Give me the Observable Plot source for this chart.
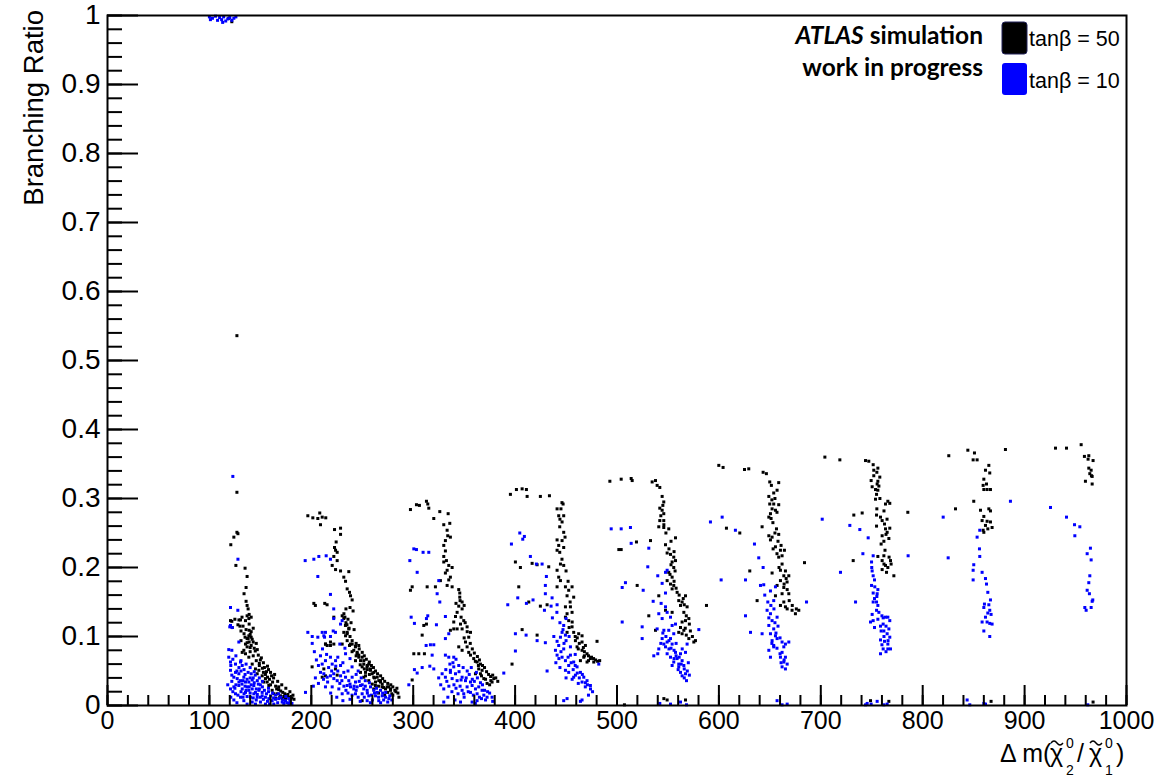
<!DOCTYPE html>
<html><head><meta charset="utf-8">
<script src="https://cdn.jsdelivr.net/npm/d3@7"></script>
<script src="https://cdn.jsdelivr.net/npm/@observablehq/plot@0.6"></script>
<style>body{margin:0;background:#fff} svg{display:block}</style>
</head><body><div id="chart"></div>
<script>
// tanβ = 50 (black) points: [Δm, branching ratio]
const tan50 = [
[119,0.996],[122,0.991],
[127,0.536],[127,0.309],[127,0.251],[128,0.249],[124,0.244],[121,0.233],[126,0.203],[135,0.199],[137,0.187],[136,0.171],[134,0.162],[136,0.151],[137,0.145],[138,0.14],[139,0.132],[132,0.128],[129,0.124],[141,0.128],[122,0.122],[140,0.103],[138,0.097],[131,0.094],[139,0.092],[141,0.087],
[137,0.130],[138.7,0.126],[135.4,0.123],[130.5,0.124],[120.7,0.123],[122.4,0.113],[138.7,0.101],[137,0.097],[135.4,0.089],[137,0.085],[133.8,0.08],[132.2,0.077],[135.4,0.075],[138.7,0.07],
[142,0.06],[145.2,0.053],[148.5,0.051],[146.9,0.046],[151.8,0.043],[155,0.039],[153.4,0.034],[156.7,0.034],[158.3,0.029],[161.6,0.022],[163.2,0.017],[166.5,0.017],[169.8,0.014],[173,0.013],[176.3,0.014],[164.9,0.01],[171.4,0.01],[174.7,0.01],[179.6,0.01],
[139,0.118],[143,0.112],[141,0.107],[135,0.099],[142,0.096],[146,0.09],[144,0.083],[140,0.078],[148,0.073],[150,0.066],[153,0.062],[157,0.057],[152,0.054],[160,0.048],[163,0.04],[167,0.035],[171,0.03],[175,0.025],[179,0.02],[182,0.015],[168,0.023],[160,0.03],[155,0.045],[149,0.058],
[128,0.117],[131,0.108],[133,0.115],[136,0.11],[134,0.104],[139,0.109],[141,0.099],[143,0.092],[137,0.091],[140,0.084],[145,0.079],[147,0.081],[143,0.072],[146,0.065],[151,0.069],[149,0.061],[154,0.055],[156,0.049],[158,0.052],[161,0.043],[159,0.038],[162,0.034],[165,0.028],[168,0.027],[170,0.021],[172,0.019],[174,0.017],[177,0.016],[178,0.012],[181,0.011],[183,0.009],[169,0.012],[166,0.024],[164,0.045],[157,0.041],[153,0.048],[130,0.115],[125,0.125],
[196.6,0.275],[201.5,0.272],[208.3,0.279],[210.7,0.273],[214.2,0.272],[206.4,0.271],[209,0.262],
[222.8,0.255],[228.7,0.257],[228.7,0.248],[224.4,0.237],[222.8,0.229],[223.8,0.225],[225.4,0.222],[222.1,0.216],[225.4,0.21],[220.5,0.203],[223.8,0.197],[228.7,0.195],[236.8,0.194],
[231.9,0.186],[233.6,0.18],[235.2,0.169],[237.5,0.164],[238.5,0.159],[240.1,0.153],
[202.5,0.148],[204,0.145],[213.2,0.148],[215.5,0.146],
[232,0.133],[233,0.128],[234,0.12],[235,0.117],[237,0.112],
[231.9,0.106],[233.6,0.101],[235.2,0.094],[237.5,0.087],[240.1,0.089],[243.4,0.086],
[214,0.089],[215.6,0.087],[218.8,0.092],
[241.7,0.08],[245,0.075],[246.6,0.07],[248.3,0.065],[243.4,0.065],[251.5,0.06],[254.9,0.058],[258.1,0.053],[249.9,0.056],[261.3,0.048],[264.7,0.041],[267.9,0.036],[263,0.034],[269.6,0.031],[274.5,0.027],[277.8,0.024],[248.3,0.048],[253.2,0.043],[256.4,0.036],[259.8,0.031],[284,0.025],
[210.7,0.041],[213.9,0.043],
[230.3,0.13],[231.9,0.126],[233.5,0.116],[236.8,0.111],[235.2,0.104],[240.1,0.094],[238.4,0.089],[243.3,0.085],[246.6,0.087],[245,0.077],[246.6,0.073],[249.9,0.07],[251.5,0.065],[256.4,0.06],[254.8,0.056],[258.1,0.051],[253.2,0.048],[259.7,0.046],[261.3,0.041],[266.2,0.036],[267.9,0.034],[262.9,0.029],[269.5,0.027],[272.8,0.024],[276,0.027],[261.3,0.024],[277.7,0.022],[249.9,0.007],[251.5,0.041],[222.1,0.089],[218.8,0.087],[213.9,0.089],[230.3,0.089],[223.7,0.053],[225.4,0.044],[212.3,0.053],[200.8,0.056],[222.1,0.128],[235.2,0.106],
[280,0.015],[283,0.02],[272,0.015],[266,0.018],
[244,0.09],[247,0.082],[250,0.077],[252,0.072],[254,0.067],[257,0.063],[259,0.058],[261,0.055],[263,0.05],[265,0.046],[268,0.043],[270,0.039],[272,0.035],[275,0.032],[278,0.03],[280,0.027],[282,0.022],[285,0.018],[286,0.012],[279,0.017],[275,0.019],[271,0.026],[266,0.028],[262,0.04],[257,0.045],[255,0.052],[252,0.053],[248,0.059],[244,0.072],[240,0.078],[238,0.1],[242,0.11],[239,0.12],[236,0.125],[241,0.137],[238,0.142],[234,0.14],
[297.3,0.284],[303.2,0.291],[306.1,0.29],[313,0.296],[314.3,0.292],[315.3,0.286],[320.2,0.271],[326.1,0.281],[334.3,0.278],[330,0.262],[333.3,0.254],[335.9,0.264],[333.9,0.246],[336.5,0.244],[331.6,0.239],[330,0.232],[331.6,0.224],[330,0.216],[332.6,0.21],[330,0.208],[334.9,0.203],[333.3,0.196],[338.2,0.2],[331.6,0.192],[336.5,0.186],[334.9,0.182],[333.3,0.174],[338.2,0.172],[344.7,0.168],[345.7,0.163],[345.7,0.157],[348,0.15],[344.7,0.144],[343.1,0.135],[348,0.14],[341.5,0.129],[339.8,0.121],[346.4,0.118],[349.6,0.123],[343.1,0.111],[348,0.111],[352.9,0.114],[356.2,0.106],[354.5,0.099],[351.3,0.092],[352.9,0.085],[354.5,0.077],[356.2,0.073],[359.4,0.068],[362.7,0.063],[366,0.06],[364.3,0.053],[367.6,0.051],[361.1,0.046],[366,0.046],[369.3,0.039],[376.2,0.036],[377.4,0.034],[379.1,0.039],[372.5,0.032],
[299,0.172],[297.3,0.167],[313.7,0.172],[321.8,0.172],[326.7,0.181],[313,0.118],[310.4,0.116],[308.8,0.102],[300.6,0.075],[305.5,0.075],[311,0.075],[299,0.037],[339.8,0.111],[336.5,0.109],[344.7,0.085],[348,0.08],
[356,0.09],[358,0.082],[360,0.076],[363,0.071],[365,0.066],[368,0.058],[370,0.055],[372,0.049],[374,0.045],[376,0.042],[378,0.044],[381,0.04],[383,0.035],[375,0.03],[371,0.038],[367,0.043],[364,0.058],[361,0.064],[350,0.098],[353,0.107],[351,0.12],[347,0.128],[350,0.145],[346,0.152],[342,0.148],
[395.4,0.306],[401.3,0.313],[406.9,0.314],[411.1,0.313],[411.8,0.303],[424.8,0.303],[433.7,0.304],[447.1,0.292],[441.2,0.285],[442.8,0.275],[447.7,0.275],[446.1,0.266],[443.8,0.259],[447.7,0.251],[441.2,0.24],[446.1,0.239],[442.8,0.232],[447.7,0.229],[441.2,0.225],[443.8,0.222],[444.5,0.205],[447.7,0.203],[441.2,0.196],[442.8,0.186],[444.5,0.181],[449.4,0.172],[441.2,0.172],[452.6,0.167],[455.9,0.172],[451,0.159],[457.5,0.157],[449.4,0.143],[454.3,0.143],[455.9,0.135],[451,0.133],[449.4,0.128],[452.6,0.123],[455.9,0.114],[451,0.106],[457.5,0.106],[462.4,0.104],[465.7,0.101],[459.2,0.094],[465.7,0.092],[469,0.087],[460.8,0.085],[465.7,0.08],[470.6,0.075],[467.4,0.07],[473.9,0.068],[477.2,0.063],[470.6,0.063],[464.1,0.065],[480.4,0.093],
[400.3,0.208],[405.2,0.2],[416.7,0.206],[421.6,0.204],[433,0.201],[403.6,0.172],[413.4,0.15],[424.8,0.144],[431.4,0.146],[421.6,0.102],[406.9,0.11],[397,0.06],
[459,0.1],[461,0.098],[463,0.09],[467,0.084],[468,0.078],[472,0.072],[475,0.07],[477,0.068],[479,0.066],[481,0.064],[483,0.065],[472,0.065],[468,0.072],[462,0.082],[453,0.113],[456,0.121],[454,0.15],[452,0.18],[450,0.195],[446,0.212],[449,0.244],[444,0.27],[445,0.285],[446,0.294],
[493,0.325],[504.1,0.328],[513.9,0.329],[514.9,0.326],[534.5,0.324],[537.8,0.326],[539.4,0.319],[542,0.316],[544.3,0.303],[545.9,0.295],[542,0.286],[544.3,0.283],[545.9,0.278],[542,0.268],[545.9,0.268],[541,0.259],[545.9,0.258],[550.8,0.256],[557.4,0.243],[532.9,0.239],[519.1,0.237],[501.8,0.226],[504.1,0.226],[547.6,0.233],[549.2,0.221],[552.5,0.219],[555.7,0.215],[557.4,0.21],[554.1,0.208],[555.7,0.2],[550.8,0.193],[554.1,0.186],[549.2,0.181],[552.5,0.176],[555.7,0.174],[554.1,0.169],[559,0.164],[567.2,0.159],[560.6,0.152],[563.9,0.15],[562.3,0.145],[568.8,0.143],[565.6,0.135],[570.5,0.126],[567.2,0.123],[563.9,0.121],[562.3,0.113],[565.6,0.109],[560.6,0.106],[563.9,0.104],[570.5,0.097],[577,0.094],[575.4,0.092],[537.8,0.109],[531.2,0.13],[541,0.159],[519.8,0.174],[547.6,0.138],[554.1,0.135],[587.8,0.145],
[545,0.29],[543,0.275],[546,0.262],[548,0.25],[553,0.238],[551,0.227],[556,0.223],[553,0.204],[557,0.195],[552,0.19],[556,0.18],[558,0.17],[561,0.16],[565,0.155],[566,0.146],[568,0.13],[571,0.118],[567,0.112],[572,0.108],[574,0.1],[568,0.102],
[546,0.01],[549.2,0.008],[567.2,0.008],[507.3,0.001],
[599.9,0.348],[604.1,0.345],[625.1,0.342],[629.3,0.343],[643.4,0.338],[646.6,0.336],[649.9,0.324],[658.7,0.323],[651.5,0.319],[657.1,0.312],[653.8,0.308],[649,0.303],[649.9,0.292],[653.8,0.292],[658.7,0.291],[652.2,0.285],[655.5,0.283],[650.6,0.278],[649,0.273],[651.2,0.271],[642.4,0.259],[656.5,0.256],[649,0.246],[652.2,0.244],[658.7,0.248],[650.6,0.24],[655.5,0.23],[653.2,0.227],[660.4,0.225],[664.3,0.225],[658.7,0.215],[662,0.217],[652.2,0.192],[660.4,0.196],[665.3,0.195],[663.7,0.188],[668.6,0.188],[660.4,0.181],[666.9,0.179],[657.1,0.174],[663.7,0.171],[655.5,0.159],[662,0.162],[668.6,0.162],[663.7,0.15],[660.4,0.145],[665.3,0.143],[671.8,0.138],[675.1,0.133],[637.5,0.152],[630.3,0.195],[607.4,0.257],[620.5,0.25],[678.4,0.138],
[655,0.3],[652,0.298],[657,0.28],[653,0.265],[655,0.25],[658,0.238],[661,0.232],[657,0.22],[662,0.205],[659,0.2],[666,0.184],[664,0.176],[667,0.168],[669,0.152],[672,0.145],[667,0.14],[676,0.14],
[704,0.36],[718.7,0.356],[743.9,0.355],[747.1,0.354],[751.4,0.349],[756,0.344],[752,0.341],[749.4,0.326],[756,0.325],[757.9,0.331],[755.3,0.321],[750.4,0.317],[753.7,0.313],[756,0.312],[754.7,0.306],[753.7,0.299],[763.5,0.292],[765.8,0.296],[767.7,0.293],[732.4,0.276],[740.6,0.279],[754.7,0.276],[758.6,0.273],[760.2,0.268],[754.7,0.26],[762.5,0.263],[767.7,0.257],[763.5,0.256],[760.2,0.246],[765.1,0.251],[766.8,0.242],[761.9,0.238],[759.2,0.234],[756,0.216],[761.9,0.217],[768.4,0.21],[760.2,0.21],[763.5,0.203],[765.8,0.2],[760.2,0.197],[764.5,0.193],[771.7,0.188],[731.8,0.21],[684,0.207],[785.4,0.28],
[755,0.338],[752,0.333],[757,0.318],[758,0.3],[755,0.285],[762,0.282],[765,0.27],[764,0.248],[763,0.225],[767,0.215],[769,0.205],[762,0.205],
[748.8,0.007],[766.8,0.006],
[825.6,0.362],[844.3,0.37],[850.8,0.366],[849.5,0.356],[853.4,0.356],[864.9,0.348],[861.6,0.341],[865.8,0.337],[860,0.328],[862.6,0.321],[859.3,0.319],[863.2,0.313],[860,0.313],[866.5,0.313],[850.1,0.296],[832.2,0.285],[856.7,0.283],[864.9,0.285],[866.5,0.282],[860,0.274],[863.2,0.267],[858.3,0.268],[866.5,0.266],[861.6,0.261],[868.1,0.258],[859.3,0.254],[863.9,0.256],[860,0.251],[881.2,0.371],
[867.1,0.006],
[930.3,0.373],[941.1,0.373],[955.5,0.378],[958.7,0.361],[963,0.362],[962.3,0.357],[967.2,0.355],[963,0.344],[965.3,0.341],[964,0.336],[966.3,0.332],[959.7,0.325],[966.3,0.321],[965.6,0.333],
[967.2,0.005]
];

// tanβ = 10 (blue) points: [Δm, branching ratio]
const tan10 = [
[100,0.998],[103,0.996],[106,0.999],[108,0.993],[110,0.997],[112,0.994],[114,0.998],[116,0.992],[118,0.995],[120,0.997],[122,0.993],[124,0.996],[126,0.998],[101,0.994],[113,0.99],
[123,0.332],[128,0.212],[120.7,0.142],[127.9,0.138],[120,0.114],[122.4,0.113],[119,0.081],[122,0.08],[120.7,0.116],[128.9,0.092],
[120.7,0.063],[125.6,0.06],[130.5,0.063],[132.2,0.058],[120.7,0.051],[125.6,0.048],[128.9,0.046],[124,0.041],[127.3,0.039],[130.5,0.036],[133.8,0.041],[135.4,0.034],[124,0.027],[128.9,0.029],[132.2,0.024],[137,0.027],[138.7,0.022],[142,0.024],[135.4,0.019],[143.6,0.017],[145.2,0.019],[148.5,0.022],[140.3,0.012],[146.9,0.012],[151.8,0.014],[155,0.012],[158.3,0.01],[161.6,0.007],[142,0.005],[150.1,0.005],[155,0.002],[163.2,0.002],[171.4,0.005],[174.7,0.007],[177.9,0.01],[133.8,0.007],[137,0.002],[145.2,0.002],[125.6,0.017],[130.5,0.012],[151.8,0.019],[138.7,0.034],[143.6,0.029],[120.7,0.024],
[135,0.045],[140,0.04],[150,0.03],[158,0.02],[165,0.015],[168,0.01],[146,0.008],[128,0.015],[122,0.035],[133,0.012],
[119,0.07],[121,0.058],[123,0.067],[126,0.072],[129,0.055],[131,0.05],[134,0.052],[136,0.06],[138,0.048],[140,0.055],[141,0.046],[143,0.04],[145,0.044],[147,0.036],[149,0.04],[144,0.033],[141,0.03],[139,0.027],[136,0.022],[132,0.031],[129,0.034],[126,0.03],[123,0.02],[121,0.012],[124,0.008],[127,0.004],[131,0.02],[134,0.017],[137,0.013],[140,0.018],[143,0.011],[147,0.016],[149,0.024],[152,0.027],[154,0.022],[156,0.017],[153,0.009],[157,0.006],[160,0.014],[162,0.018],[165,0.009],[167,0.004],[170,0.012],[173,0.003],[176,0.004],[179,0.006],[181,0.003],[159,0.002],[150,0.012],[146,0.024],[133,0.036],[127,0.05],[122,0.044],[118,0.03],[125,0.025],[135,0.028],[142,0.037],[148,0.031],[131,0.065],[137,0.038],[144,0.049],[152,0.035],[158,0.025],[163,0.011],[168,0.017],[172,0.008],[175,0.013],[178,0.003],
[194,0.21],[202.5,0.212],[207.4,0.216],[214.6,0.217],[218.8,0.212],[206.4,0.187],[218.8,0.161],[222,0.14],[222,0.126],[196.6,0.106],[200.9,0.1],[200.9,0.09],[206.4,0.099],[210.7,0.106],[213,0.099],[218.8,0.1],[221.5,0.108],[228,0.089],[233.6,0.075],[212.3,0.101],[213.9,0.106],[223.7,0.106],[228.7,0.118],[230.3,0.123],
[210.7,0.06],[213.9,0.065],[218.8,0.07],[220.5,0.06],[223.8,0.065],[228.7,0.058],[209,0.048],[212.3,0.046],[215.6,0.041],[218.8,0.043],[222.1,0.039],[225.4,0.036],[228.7,0.043],[231.9,0.048],[233.6,0.041],[236.8,0.036],[240.1,0.041],[243.4,0.034],[235.2,0.029],[238.5,0.027],[241.7,0.024],[245,0.027],[248.3,0.029],[251.5,0.024],[254.8,0.022],[258.1,0.027],[261.3,0.022],[264.6,0.019],[267.9,0.022],[249.9,0.017],[256.4,0.014],[263,0.014],[269.6,0.014],[272.8,0.012],[276.1,0.01],[254.8,0.007],[266.2,0.007],[243.4,0.017],[220.5,0.027],[213.9,0.027],[227,0.024],[230.3,0.017],[194.3,0.019],
[203,0.078],[205,0.066],[207,0.058],[209,0.072],[211,0.082],[215,0.074],[217,0.055],[220,0.05],[222,0.046],[224,0.057],[226,0.05],[228,0.032],[230,0.036],[232,0.028],[234,0.022],[236,0.018],[238,0.031],[240,0.015],[242,0.028],[244,0.022],[246,0.012],[247,0.035],[250,0.03],[252,0.012],[253,0.028],[255,0.018],[257,0.033],[259,0.015],[260,0.008],[262,0.018],[264,0.025],[266,0.012],[268,0.004],[270,0.018],[271,0.008],[273,0.019],[275,0.005],[277,0.014],[279,0.008],[258,0.004],[248,0.006],[238,0.009],[231,0.007],[225,0.012],[219,0.018],[216,0.034],[212,0.038],[207,0.032],[204,0.04],[202,0.028],[226,0.07],[231,0.062],[236,0.05],[240,0.056],[244,0.045],[246,0.05],[249,0.04],[253,0.036],[233,0.083],[238,0.068],
[296.7,0.21],[300.6,0.227],[303.2,0.226],[309.7,0.222],[315.3,0.222],[303.9,0.193],[325.1,0.181],[323.5,0.162],[326.1,0.15],[298,0.128],[301.2,0.119],[314.3,0.13],[313,0.126],[331.6,0.129],[322.8,0.117],[334.9,0.104],[331.6,0.097],[312.7,0.087],[316.9,0.088],[320.2,0.088],[318.6,0.073],[331.6,0.073],[334.9,0.07],[339.8,0.07],[301.2,0.052],[303.9,0.047],[308.8,0.055],[316.3,0.057],[320.2,0.053],[295.7,0.03],
[331.6,0.041],[328.4,0.046],[336.5,0.051],[339.8,0.056],[344.7,0.058],[341.5,0.046],[338.2,0.039],[343.1,0.036],[348,0.041],[351.3,0.036],[356.2,0.034],[352.9,0.027],[357.8,0.029],[361.1,0.024],[364.3,0.027],[367.6,0.022],[356.2,0.019],[362.7,0.017],[369.3,0.015],[372.5,0.012],[377.4,0.012],[349.6,0.017],[330,0.024],[346.4,0.005],[357.8,0.005],[362.7,0.007],[330,0.005],[336.5,0.048],
[333,0.035],[335,0.028],[338,0.02],[340,0.03],[342,0.025],[344,0.017],[346,0.028],[348,0.022],[350,0.012],[352,0.04],[354,0.02],[355,0.045],[358,0.038],[359,0.015],[360,0.035],[363,0.04],[365,0.012],[366,0.033],[368,0.03],[370,0.022],[371,0.008],[373,0.02],[375,0.018],[378,0.006],[339,0.062],[342,0.067],[345,0.049],[349,0.055],[353,0.05],[357,0.055],[341,0.008],[334,0.012],[327,0.03],[332,0.052],[336,0.06],[325,0.04],[347,0.037],[362,0.048],[367,0.01],[361,0.003],
[404.6,0.25],[409.1,0.245],[407.5,0.241],[396.4,0.234],[415,0.216],[420.9,0.205],[426.5,0.205],[430.7,0.187],[429.7,0.174],[436.3,0.156],[429.7,0.162],[402.6,0.156],[392.8,0.146],[411.1,0.148],[417.6,0.153],[435.3,0.144],[441.2,0.146],[428.8,0.138],[436.6,0.127],[400.3,0.104],[410.8,0.102],[421.6,0.094],[429.7,0.091],[441.2,0.093],[447.7,0.116],[446.1,0.106],[444.5,0.099],[449.4,0.102],[442.8,0.087],[439.6,0.08],[441.2,0.073],[447.7,0.082],[454.3,0.085],[446.1,0.07],[449.4,0.065],[454.3,0.073],[457.5,0.063],[452.6,0.058],[460.8,0.056],[464.1,0.048],[459.2,0.044],[467.4,0.041],[465.7,0.034],[470.6,0.036],[468.9,0.027],[473.9,0.029],[452.6,0.048],[431.4,0.05],[400.3,0.079],[388.9,0.047],[447.7,0.007],[451,0.01],[464.1,0.006],[465.7,0.008],[482.1,0.06],[449.4,0.051],[457.5,0.041],
[443,0.068],[445,0.078],[448,0.09],[450,0.094],[452,0.07],[455,0.062],[457,0.052],[459,0.058],[461,0.047],[463,0.04],[466,0.045],[469,0.033],[471,0.03],[474,0.024],[476,0.02],[472,0.015],[462,0.032],[456,0.038],[450,0.04],[444,0.055],[440,0.062],[447,0.11],[444,0.12],[450,0.126],[438,0.1],[453,0.1],[441,0.135],[459,0.074],
[494.3,0.256],[504.1,0.256],[513.2,0.258],[513.9,0.235],[531.2,0.228],[530.2,0.201],[540,0.188],[544.3,0.177],[547.6,0.193],[549.2,0.196],[508.3,0.178],[505.1,0.171],[525.7,0.167],[535.5,0.151],[543.3,0.148],[547.6,0.163],[547.6,0.143],[541,0.133],[544.3,0.126],[549.2,0.135],[552.5,0.128],[554.1,0.116],[546,0.109],[550.8,0.109],[555.7,0.104],[524.7,0.114],[524.7,0.097],[505.1,0.121],[539.4,0.111],[552.5,0.097],[544.3,0.097],[549.2,0.092],[554.1,0.089],[541,0.082],[547.6,0.085],[536.1,0.072],[549.2,0.075],[552.5,0.07],[557.4,0.077],[562.3,0.075],[567.2,0.077],[559,0.068],[563.9,0.065],[554.1,0.058],[560.6,0.056],[565.6,0.058],[562.3,0.048],[567.2,0.046],[563.9,0.043],[568.2,0.036],[560.6,0.06],[555.7,0.063],[580.3,0.11],[557.4,0.118],[568.8,0.089],[540,0.075],
[545,0.105],[548,0.1],[551,0.094],[553,0.083],[556,0.08],[558,0.072],[561,0.07],[563,0.06],[566,0.053],[569,0.05],[571,0.044],[566,0.04],[560,0.052],[556,0.068],[551,0.082],[546,0.089],[543,0.09],[558,0.09],[564,0.082],[570,0.062],
[542,0.003],[552.5,0.002],[562.3,0.005],[568.2,0.001],
[591.7,0.266],[603.2,0.273],[616.2,0.254],[634.9,0.234],[639.1,0.214],[643.4,0.2],[626.1,0.182],[602.2,0.182],[640.8,0.174],[644,0.175],[650.6,0.166],[655.5,0.172],[653.8,0.152],[647.3,0.138],[650.6,0.133],[657.1,0.128],[652.2,0.123],[649,0.116],[653.8,0.111],[650.6,0.104],[655.5,0.101],[652.2,0.094],[657.1,0.097],[653.8,0.087],[649,0.08],[650.6,0.07],[662,0.092],[665.3,0.089],[668.6,0.092],[663.7,0.085],[662,0.077],[665.3,0.07],[663.7,0.063],[662,0.056],[665.3,0.053],[626.1,0.13],[631,0.106],[642.4,0.104],[653.8,0.085],[660.4,0.07],
[645,0.16],[648,0.15],[651,0.145],[654,0.14],[649,0.127],[655,0.12],[658,0.115],[656,0.105],[660,0.098],[652,0.09],[657,0.083],[660,0.075],[664,0.066],[667,0.06],[661,0.062],
[657.1,0.007],[662,0.001],[667,0.002],
[701.4,0.27],[728.5,0.261],[738.3,0.255],[746.5,0.243],[741.3,0.22],[751.4,0.217],[785.7,0.217],[749.8,0.208],[719.3,0.193],[750.4,0.195],[751.4,0.188],[752.7,0.182],[749.8,0.174],[756,0.168],[755.3,0.162],[751.4,0.163],[752.7,0.155],[754.7,0.15],[751.4,0.15],[756,0.145],[754.7,0.138],[750.4,0.132],[748.8,0.121],[752.7,0.113],[751.4,0.123],[761.2,0.127],[763.5,0.128],[765.8,0.128],[767.7,0.123],[761.2,0.118],[758.6,0.115],[766.8,0.111],[761.9,0.108],[759.2,0.108],[765.1,0.104],[767.7,0.099],[758.6,0.095],[762.5,0.093],[765.8,0.089],[761.2,0.082],[765.8,0.082],[768.4,0.082],[758.6,0.075],[734.1,0.15],[686,0.15],
[750,0.2],[753,0.172],[755,0.158],[757,0.135],[760,0.13],[764,0.115],[762,0.1],[766,0.094],[760,0.088],[764,0.078],[756,0.125],
[743.9,0.001],[745.5,0.003],[749.4,0.002],[755.3,0.006],[761.9,0.001],[765.1,0.002],
[820.1,0.273],[825,0.214],[856,0.254],[853.4,0.244],[855.7,0.227],[856,0.216],[850.1,0.204],[849.5,0.196],[858.3,0.193],[849.5,0.182],[861.6,0.184],[862.6,0.176],[863.9,0.164],[866.5,0.153],[860.6,0.147],[864.9,0.146],[860,0.142],[865.8,0.138],[863.9,0.134],[867.1,0.132],[861.6,0.128],[858.3,0.121],[863.2,0.121],[865.8,0.119],[868.1,0.118],[860,0.108],[865.8,0.1],[886.1,0.296],
[843.6,0.008],[846.2,0.001],[860,0.003],[861.6,0.002],
[925.4,0.287],[941.1,0.273],[949,0.262],[954.2,0.259],[949.3,0.246],[964.6,0.228],[961.4,0.22],[965.3,0.211],[964,0.188],[963,0.178],[961.4,0.167],[963.6,0.162],[966.9,0.153],[966.3,0.151],[959.1,0.142],[965.3,0.142],[960.4,0.138],
[962,0.001]
];

const seriesNames = ["tanβ = 50", "tanβ = 10"];
const seriesColors = ["#000000", "#0000ff"];
const xTickValues = [0,100,200,300,400,500,600,700,800,900,1000];
const xTickLabels = ["0","100","200","300","400","500","600","700","800","900","1000"];
const yTickValues = [0,0.1,0.2,0.3,0.4,0.5,0.6,0.7,0.8,0.9,1];
const yTickLabels = ["0","0.1","0.2","0.3","0.4","0.5","0.6","0.7","0.8","0.9","1"];
const yTitle = "Branching Ratio";
const headerLines = ["simulation", "work in progress"];

const W = 1158, H = 780, mL = 107, mR = 32, mT = 15, mB = 75;
const pw = W - mL - mR, ph = H - mT - mB;
const xMinor = d3.range(0, 1001, 20);
const yMinor = d3.range(0, 51).map(i => i / 50);

const pts = [
  ...tan50.map(([x, y]) => ({x, y, s: seriesNames[0]})),
  ...tan10.map(([x, y]) => ({x, y, s: seriesNames[1]}))
];

const chart = Plot.plot({
  width: W, height: H,
  marginLeft: mL, marginRight: mR, marginTop: mT, marginBottom: mB,
  style: {fontFamily: "'Liberation Sans', Arial, sans-serif", background: "#fff", color: "#000"},
  x: {domain: [0, 1000], label: null},
  y: {domain: [0, 1], label: null},
  color: {domain: seriesNames, range: seriesColors},
  marks: [
    Plot.dot(pts, {x: "x", y: "y", fill: "s", symbol: "square", r: 1.7}),
    Plot.tickY(yMinor, {y: d => d, insetRight: pw - 15, strokeWidth: 2}),
    Plot.tickY(yTickValues, {y: d => d, insetRight: pw - 31, strokeWidth: 2}),
    Plot.tickX(xMinor, {x: d => d, insetTop: ph - 10, strokeWidth: 2}),
    Plot.tickX(xTickValues, {x: d => d, insetTop: ph - 20, strokeWidth: 2}),
    Plot.axisY(yTickValues, {tickSize: 0, tickPadding: 7, fontSize: 28, label: null,
      tickFormat: d => yTickLabels[yTickValues.indexOf(d)]}),
    Plot.axisX(xTickValues, {tickSize: 0, tickPadding: 6, fontSize: 25, label: null,
      tickFormat: d => xTickLabels[xTickValues.indexOf(d)]}),
    Plot.frame({stroke: "#000", strokeWidth: 2})
  ]
});
document.getElementById("chart").appendChild(chart);

const svg = d3.select(chart);
const FF = "'Liberation Sans', Arial, sans-serif";
function txt(x, y, s, size, anchor) {
  return svg.append("text").attr("x", x).attr("y", y).attr("font-family", FF)
    .attr("font-size", size).attr("fill", "#000").attr("text-anchor", anchor || "start").text(s);
}
// y title
svg.append("text").attr("transform", "translate(43,10) rotate(-90)")
  .attr("text-anchor", "end").attr("font-family", FF).attr("font-size", 27.5).attr("fill", "#000")
  .text(yTitle);
// x title: Δ m(χ̃2^0 / χ̃1^0); the tildes are drawn as small strokes
txt(1000, 762, "Δ m(", 25);
txt(1050, 762, "χ", 25);
txt(1066, 775, "2", 14);
txt(1066, 748, "0", 14);
txt(1077, 762, "/", 25);
txt(1089, 762, "χ", 25);
txt(1105, 775, "1", 14);
txt(1105, 748, "0", 14);
txt(1116, 762, ")", 25);
[1051, 1090].forEach(x0 => {
  svg.append("path").attr("d", `M${x0},${743} q3,-4 6,0 t6,0`)
    .attr("fill", "none").attr("stroke", "#000").attr("stroke-width", 1.4);
});
// header text
const HF = "Lato, 'Open Sans', sans-serif";
const h1 = svg.append("text").attr("x", 983).attr("y", 44).attr("text-anchor", "end")
  .attr("font-family", HF).attr("font-size", 24.5).attr("font-weight", "bold").attr("fill", "#000");
h1.append("tspan").attr("font-style", "italic").text("ATLAS");
h1.append("tspan").text(" " + headerLines[0]);
svg.append("text").attr("x", 983).attr("y", 76).attr("text-anchor", "end")
  .attr("font-family", HF).attr("font-size", 24.5).attr("font-weight", "bold").attr("fill", "#000")
  .text(headerLines[1]);
// legend
const legY = [22, 63], legBase = [46, 88];
seriesNames.forEach((name, i) => {
  svg.append("rect").attr("x", 1002).attr("y", legY[i]).attr("width", 25).attr("height", 32)
    .attr("rx", 3).attr("fill", seriesColors[i]).attr("stroke", i === 0 ? "#22225a" : "none").attr("stroke-width", 1);
  txt(1029, legBase[i], name, 21.5, "start");
});
</script>
</body></html>
